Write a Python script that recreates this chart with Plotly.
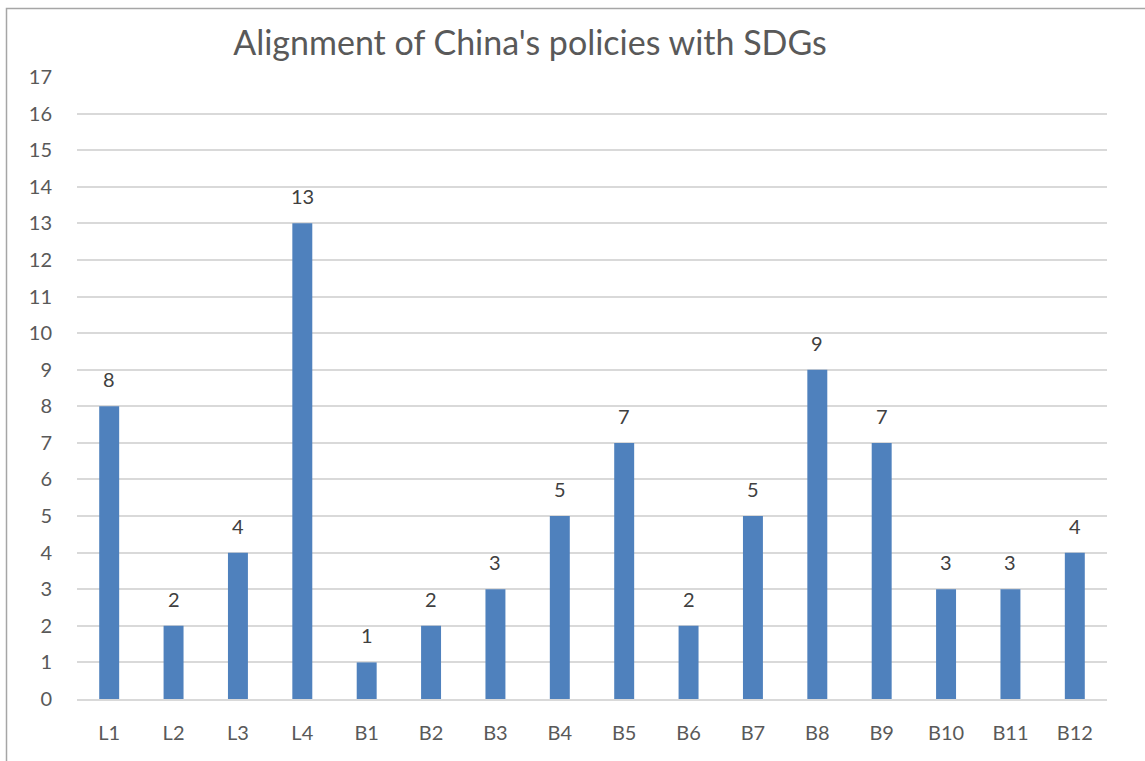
import plotly.graph_objects as go

categories = ["L1", "L2", "L3", "L4", "B1", "B2", "B3", "B4", "B5", "B6", "B7", "B8", "B9", "B10", "B11", "B12"]
values = [8, 2, 4, 13, 1, 2, 3, 5, 7, 2, 5, 9, 7, 3, 3, 4]
y_ticks = list(range(0, 18))

W, H = 1145, 761
L, R, T, B = 77, 38, 77, 62
pw, ph = W - L - R, H - T - B
FONT = "Lato, Open Sans, sans-serif"

fig = go.Figure(go.Bar(
    x=categories, y=values,
    marker=dict(color="#4F81BD", line=dict(width=0)),
    hoverinfo="x+y",
))

for c, v in zip(categories, values):
    fig.add_annotation(x=c, y=v, text=str(v), showarrow=False, yanchor="middle",
                       yshift=27, font=dict(family=FONT, size=20, color="#404040"))

def px_to_paper_x(px):
    return (px - L) / pw

def px_to_paper_y(py):
    return 1 - (py - T) / ph

fig.update_layout(
    width=W, height=H,
    margin=dict(l=L, r=R, t=T, b=B),
    paper_bgcolor="white", plot_bgcolor="white",
    bargap=0.69,
    showlegend=False,
    title=dict(text="Alignment of China's policies with SDGs", x=530 / W, xanchor="center",
               y=1 - 43 / H, yanchor="middle",
               font=dict(family=FONT, size=34, color="#595959")),
    font=dict(family=FONT, color="#595959", size=20),
    xaxis=dict(showgrid=False, showline=True, linecolor="#D9D9D9", linewidth=1.5,
               ticks="", ticklabelstandoff=15, tickfont=dict(size=20, color="#595959")),
    yaxis=dict(range=[0, 17], tickvals=y_ticks, showgrid=True, gridcolor="#D9D9D9", gridwidth=1.5,
               zeroline=False, showline=False, ticks="", ticklabelstandoff=24,
               tickfont=dict(size=20, color="#595959")),
    shapes=[dict(type="rect", xref="paper", yref="paper",
                 x0=px_to_paper_x(6.5), x1=px_to_paper_x(1170),
                 y0=px_to_paper_y(790), y1=px_to_paper_y(8.5),
                 line=dict(color="#A6A6A6", width=1.5), fillcolor="rgba(0,0,0,0)", layer="above")],
)
fig.write_html("out.html")
